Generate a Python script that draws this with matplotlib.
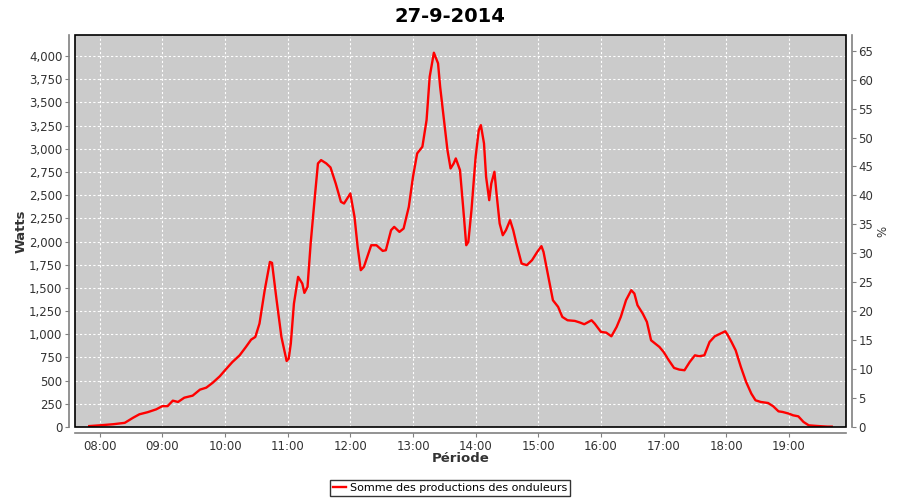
import matplotlib
matplotlib.use("Agg")
import matplotlib.pyplot as plt
from matplotlib.patches import Rectangle
from matplotlib.ticker import FuncFormatter, MultipleLocator

plt.rcParams.update({"font.family": "DejaVu Sans", "font.size": 8})

# time of day (HH:MM) and total power of the inverters (W)
times = [
    "07:50", "08:00", "08:13", "08:24", "08:32", "08:38", "08:46", "08:54",
    "09:00", "09:05", "09:10", "09:15", "09:21", "09:29", "09:36", "09:42",
    "09:48", "09:55", "10:00", "10:07", "10:14", "10:20", "10:25", "10:29",
    "10:33", "10:38", "10:43", "10:45", "10:49", "10:54", "10:59", "11:01",
    "11:03", "11:06", "11:10", "11:14", "11:16", "11:19", "11:22", "11:26",
    "11:29", "11:32", "11:37", "11:41", "11:46", "11:51", "11:54", "12:00",
    "12:04", "12:07", "12:10", "12:13", "12:20", "12:25", "12:31", "12:34",
    "12:39", "12:42", "12:47", "12:51", "12:56", "13:00", "13:04", "13:09",
    "13:13", "13:16", "13:20", "13:24", "13:26", "13:30", "13:33", "13:36",
    "13:39", "13:41", "13:45", "13:48", "13:51", "13:53", "13:56", "14:00",
    "14:03", "14:05", "14:08", "14:10", "14:13", "14:15", "14:18", "14:20",
    "14:23", "14:26", "14:29", "14:33", "14:36", "14:39", "14:44", "14:49",
    "14:54", "14:59", "15:03", "15:05", "15:09", "15:14", "15:19", "15:23",
    "15:28", "15:35", "15:40", "15:44", "15:51", "15:54", "16:00", "16:05",
    "16:10", "16:15", "16:19", "16:24", "16:29", "16:32", "16:35", "16:40",
    "16:44", "16:48", "16:52", "16:56", "17:00", "17:05", "17:10", "17:15",
    "17:20", "17:25", "17:30", "17:34", "17:39", "17:44", "17:49", "17:53",
    "17:59", "18:01", "18:05", "18:09", "18:14", "18:19", "18:24", "18:28",
    "18:33", "18:40", "18:45", "18:50", "18:54", "19:00", "19:04", "19:09",
    "19:14", "19:19", "19:27", "19:37", "19:41",
]
watts = [
    10, 18, 30, 45, 100, 137, 160, 190,
    225, 225, 284, 270, 316, 338, 403, 424,
    475, 547, 612, 700, 773, 863, 942, 971,
    1115, 1475, 1780, 1770, 1403, 971, 712, 737,
    900, 1331, 1619, 1547, 1446, 1511, 1978, 2482,
    2842, 2878, 2842, 2799, 2626, 2428, 2410, 2518,
    2266, 1942, 1691, 1727, 1960, 1960, 1899, 1906,
    2122, 2158, 2104, 2140, 2374, 2698, 2950, 3022,
    3309, 3777, 4036, 3921, 3669, 3273, 2986, 2788,
    2842, 2896, 2770, 2374, 1960, 1996, 2338, 2914,
    3201, 3255, 3058, 2698, 2446, 2626, 2752, 2518,
    2194, 2068, 2122, 2230, 2122, 1978, 1763, 1745,
    1799, 1888, 1950, 1888, 1655, 1367, 1295, 1187,
    1151, 1144, 1126, 1108, 1151, 1115, 1025, 1018,
    978, 1079, 1187, 1367, 1475, 1439, 1313, 1223,
    1133, 935, 899, 863, 809, 719, 637, 619,
    612, 701, 773, 763, 773, 917, 978, 1000,
    1032, 1000, 917, 827, 647, 486, 360, 288,
    270, 259, 223, 169, 162, 144, 126, 115,
    54, 18, 11, 4, 4,
]
hour_ticks = list(range(8, 20))
pct_ticks = list(range(0, 70, 5))

W_PER_PCT = 62.43
W_MAX = 4227

hours = [int(t[:2]) + int(t[3:]) / 60 for t in times]

fig = plt.figure(figsize=(9, 5), dpi=100)
ax = fig.add_axes([75 / 900, 1 - 427 / 500, 771 / 900, 392 / 500])
ax.set_facecolor("#cbcbcb")

ax.plot(hours, watts, color="#ff0000", lw=1.7, zorder=3,
        label="Somme des productions des onduleurs")

span = hours[-1] - hours[0]
ax.set_xlim(hours[0] - 0.0185 * span / 0.963, hours[-1] + 0.0185 * span / 0.963)
ax.set_ylim(0, W_MAX)
ax.set_xticks(hour_ticks)
ax.set_xticklabels([f"{h:02d}:00" for h in hour_ticks])
ax.yaxis.set_major_locator(MultipleLocator(250))
ax.yaxis.set_major_formatter(FuncFormatter(lambda v, p: f"{int(v):,}"))
ax.grid(True, color="white", ls=(0, (2, 2)), lw=0.8)
ax.set_axisbelow(True)

ax2 = ax.twinx()
ax2.set_ylim(0, W_MAX / W_PER_PCT)
ax2.set_yticks(pct_ticks)

for a in (ax, ax2):
    for s in a.spines.values():
        s.set_visible(False)
    a.tick_params(colors="#808080", labelcolor="#333333", length=3,
                  labelsize=8.5, pad=2)
for side, a in (("left", ax), ("bottom", ax), ("right", ax2)):
    a.spines[side].set_visible(True)
    a.spines[side].set_position(("outward", 4))
    a.spines[side].set_color("#808080")
    a.spines[side].set_linewidth(1.2)

ax.add_patch(Rectangle((0, 0), 1, 1, transform=ax.transAxes, fill=False,
                       edgecolor="black", lw=1.2, zorder=5, clip_on=False))

ax.set_ylabel("Watts", fontsize=9.5, fontweight="bold", color="#333333")
ax.yaxis.set_label_coords(-0.062, 0.5)
ax.set_xlabel("Période", fontsize=9.5, fontweight="bold", color="#333333")
ax.xaxis.set_label_coords(0.5, -0.064)
ax2.set_ylabel("%", fontsize=8.5, color="#333333")
ax2.yaxis.set_label_coords(1.039, 0.5)

fig.suptitle("27-9-2014", fontsize=14, fontweight="bold", x=0.5, y=0.985)

leg = fig.legend(loc="lower center", bbox_to_anchor=(0.5, -0.004), frameon=True,
                 fancybox=False, edgecolor="black", handlelength=1.2,
                 handletextpad=0.3, borderpad=0.3, fontsize=8)
leg.get_frame().set_linewidth(1.0)

fig.savefig("out.png", dpi=100)
